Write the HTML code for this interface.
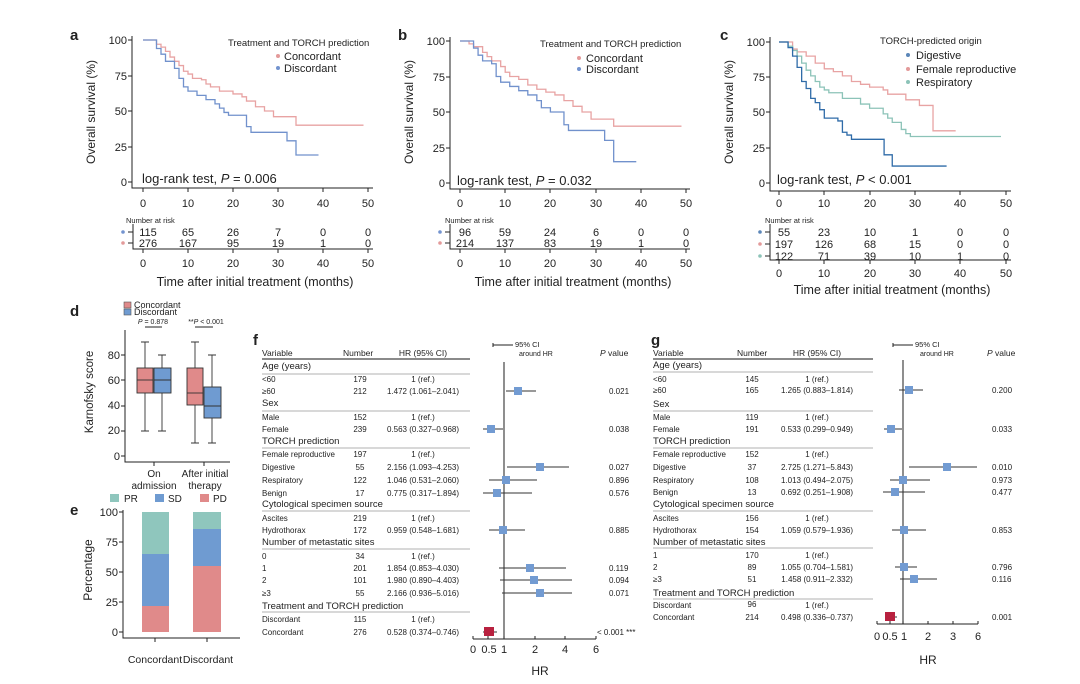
<!DOCTYPE html>
<html><head><meta charset="utf-8"><style>
html,body{margin:0;padding:0;background:#fff}
svg{display:block;font-family:"Liberation Sans",sans-serif;fill:#222}
.t{font-size:11px}
.s{font-size:8px}
.h{font-size:9.5px}
.ax{stroke:#222;stroke-width:1;fill:none}
.km{fill:none;stroke-width:1.3;vector-effect:non-scaling-stroke}
</style></head><body>
<svg width="1080" height="684" viewBox="0 0 1080 684" xmlns="http://www.w3.org/2000/svg">
<rect width="1080" height="684" fill="#fff"/>

<!-- ===== Panel a ===== -->
<text x="70" y="40" font-size="15" font-weight="bold">a</text>
<g class="t" text-anchor="end">
<text x="127" y="44">100</text><text x="127" y="80">75</text><text x="127" y="115">50</text><text x="127" y="151">25</text><text x="127" y="186">0</text>
</g>
<path class="ax" d="M132,36 V188 H373 M128,40 H132 M128,76 H132 M128,111 H132 M128,147 H132 M128,182 H132 M143,188 v4 M188,188 v4 M233,188 v4 M278,188 v4 M323,188 v4 M368,188 v4"/>
<g class="t" text-anchor="middle">
<text x="143" y="207">0</text><text x="188" y="207">10</text><text x="233" y="207">20</text><text x="278" y="207">30</text><text x="323" y="207">40</text><text x="368" y="207">50</text>
</g>
<text transform="translate(95,112) rotate(-90)" text-anchor="middle" font-size="12">Overall survival (%)</text>
<text x="142" y="183" font-size="13">log-rank test, <tspan font-style="italic">P</tspan> = 0.006</text>
<text x="228" y="46" font-size="9.5">Treatment and TORCH prediction</text>
<circle cx="278" cy="56" r="2" fill="#e39a9a"/><text x="284" y="60" class="t">Concordant</text>
<circle cx="278" cy="68" r="2" fill="#7393cf"/><text x="284" y="72" class="t">Discordant</text>
<g transform="translate(143,182) scale(4.5,-1.42)">
<path class="km" stroke="#e8a3a3" d="M0,100 H3 V97 H4 V95 H5 V92 H6 V88 H7 V85 H8 V82 H9 V78 H10 V76 H11 V73 H13 V72 H14 V69 H15 V67 H17 V64 H20 V62 H22 V60 H23 V57 H25 V53 H27 V50 H29 V46 H34 V40 H49"/>
<path class="km" stroke="#7191cc" d="M0,100 H3 V94 H4 V90 H5 V85 H7 V80 H8 V73 H9 V67 H10 V64 H12 V61 H14 V58 H16 V55 H17 V52 H18 V49 H19 V47 H23 V39 H24 V35 H31 V35 H32 V29 H34 V19 H39"/>
</g>
<text x="126" y="223" font-size="7.5">Number at risk</text>
<circle cx="123" cy="232" r="1.8" fill="#7393cf"/><circle cx="123" cy="243" r="1.8" fill="#e39a9a"/>
<path class="ax" d="M128,232 H133 M128,243 H133 M133,224 V249 H373 M143,249 v4 M188,249 v4 M233,249 v4 M278,249 v4 M323,249 v4 M368,249 v4"/>
<g class="t" text-anchor="middle">
<text x="148" y="236">115</text><text x="188" y="236">65</text><text x="233" y="236">26</text><text x="278" y="236">7</text><text x="323" y="236">0</text><text x="368" y="236">0</text>
<text x="148" y="247">276</text><text x="188" y="247">167</text><text x="233" y="247">95</text><text x="278" y="247">19</text><text x="323" y="247">1</text><text x="368" y="247">0</text>
<text x="143" y="267">0</text><text x="188" y="267">10</text><text x="233" y="267">20</text><text x="278" y="267">30</text><text x="323" y="267">40</text><text x="368" y="267">50</text>
<text x="255" y="286" font-size="12.5">Time after initial treatment (months)</text>
</g>

<!-- ===== Panel b ===== -->
<text x="398" y="40" font-size="15" font-weight="bold">b</text>
<g class="t" text-anchor="end">
<text x="445" y="45">100</text><text x="445" y="81">75</text><text x="445" y="116">50</text><text x="445" y="152">25</text><text x="445" y="187">0</text>
</g>
<path class="ax" d="M450,37 V189 H690 M446,41 H450 M446,77 H450 M446,112 H450 M446,148 H450 M446,183 H450 M460,189 v4 M505,189 v4 M550,189 v4 M596,189 v4 M641,189 v4 M686,189 v4"/>
<g class="t" text-anchor="middle">
<text x="460" y="207">0</text><text x="505" y="207">10</text><text x="550" y="207">20</text><text x="596" y="207">30</text><text x="641" y="207">40</text><text x="686" y="207">50</text>
</g>
<text transform="translate(413,112) rotate(-90)" text-anchor="middle" font-size="12">Overall survival (%)</text>
<text x="457" y="185" font-size="13">log-rank test, <tspan font-style="italic">P</tspan> = 0.032</text>
<text x="540" y="47" font-size="9.5">Treatment and TORCH prediction</text>
<circle cx="579" cy="58" r="2" fill="#e39a9a"/><text x="586" y="62" class="t">Concordant</text>
<circle cx="579" cy="69" r="2" fill="#7393cf"/><text x="586" y="73" class="t">Discordant</text>
<g transform="translate(460,183) scale(4.52,-1.42)">
<path class="km" stroke="#e8a3a3" d="M0,100 H2 V98 H3 V96 H5 V92 H6 V89 H7 V86 H9 V82 H10 V78 H11 V75 H13 V73 H15 V69 H17 V66 H19 V64 H21 V62 H23 V58 H25 V54 H27 V50 H29 V45 H34 V40 H49"/>
<path class="km" stroke="#7191cc" d="M0,100 H3 V95 H4 V90 H5 V86 H7 V84 H8 V75 H9 V71 H11 V68 H13 V65 H15 V62 H17 V58 H18 V53 H20 V50 H23 V41 H24 V37 H31 V37 H32 V30 H34 V15 H39"/>
</g>
<text x="445" y="223" font-size="7.5">Number at risk</text>
<circle cx="440" cy="232" r="1.8" fill="#7393cf"/><circle cx="440" cy="243" r="1.8" fill="#e39a9a"/>
<path class="ax" d="M445,232 H450 M445,243 H450 M450,224 V249 H690 M460,249 v4 M505,249 v4 M550,249 v4 M596,249 v4 M641,249 v4 M686,249 v4"/>
<g class="t" text-anchor="middle">
<text x="465" y="236">96</text><text x="505" y="236">59</text><text x="550" y="236">24</text><text x="596" y="236">6</text><text x="641" y="236">0</text><text x="686" y="236">0</text>
<text x="465" y="247">214</text><text x="505" y="247">137</text><text x="550" y="247">83</text><text x="596" y="247">19</text><text x="641" y="247">1</text><text x="686" y="247">0</text>
<text x="460" y="267">0</text><text x="505" y="267">10</text><text x="550" y="267">20</text><text x="596" y="267">30</text><text x="641" y="267">40</text><text x="686" y="267">50</text>
<text x="573" y="286" font-size="12.5">Time after initial treatment (months)</text>
</g>

<!-- ===== Panel c ===== -->
<text x="720" y="40" font-size="15" font-weight="bold">c</text>
<g class="t" text-anchor="end">
<text x="765" y="46">100</text><text x="765" y="81">75</text><text x="765" y="116">50</text><text x="765" y="152">25</text><text x="765" y="187">0</text>
</g>
<path class="ax" d="M770,37 V191 H1011 M766,42 H770 M766,77 H770 M766,112 H770 M766,148 H770 M766,183 H770 M779,191 v4 M824,191 v4 M870,191 v4 M915,191 v4 M960,191 v4 M1006,191 v4"/>
<g class="t" text-anchor="middle">
<text x="779" y="207">0</text><text x="824" y="207">10</text><text x="870" y="207">20</text><text x="915" y="207">30</text><text x="960" y="207">40</text><text x="1006" y="207">50</text>
</g>
<text transform="translate(733,112) rotate(-90)" text-anchor="middle" font-size="12">Overall survival (%)</text>
<text x="777" y="184" font-size="13">log-rank test, <tspan font-style="italic">P</tspan> &lt; 0.001</text>
<text x="880" y="44" font-size="9.5">TORCH-predicted origin</text>
<circle cx="908" cy="55" r="2" fill="#5b86b8"/><text x="916" y="59" class="t">Digestive</text>
<circle cx="908" cy="69" r="2" fill="#e39a9a"/><text x="916" y="73" class="t">Female reproductive</text>
<circle cx="908" cy="82" r="2" fill="#8cc3b8"/><text x="916" y="86" class="t">Respiratory</text>
<g transform="translate(779,183) scale(4.53,-1.41)">
<path class="km" stroke="#e8a3a3" d="M0,100 H2 V100 H3 V95 H4 V93 H6 V90 H8 V85 H10 V81 H12 V79 H14 V76 H16 V72 H18 V70 H20 V68 H23 V66 H24 V63 H28 V59 H31 V55 H34 V37 H39"/>
<path class="km" stroke="#8cc3b8" d="M0,100 H2 V97 H3 V94 H4 V90 H5 V85 H6 V80 H7 V76 H8 V72 H9 V68 H10 V66 H11 V64 H14 V60 H18 V56 H20 V53 H23 V49 H24 V46 H25 V43 H27 V38 H28 V35 H29 V33 H49"/>
<path class="km" stroke="#2f6ba8" d="M0,100 H2 V96 H3 V90 H4 V82 H5 V72 H6 V67 H7 V60 H8 V57 H9 V52 H10 V46 H13 V44 H14 V36 H15 V34 H16 V31 H23 V31 H23.2 V20 H25 V12 H37"/>
</g>
<text x="765" y="223" font-size="7.5">Number at risk</text>
<circle cx="760" cy="232" r="1.8" fill="#5b86b8"/><circle cx="760" cy="244" r="1.8" fill="#e39a9a"/><circle cx="760" cy="256" r="1.8" fill="#8cc3b8"/>
<path class="ax" d="M765,232 H770 M765,244 H770 M765,256 H770 M770,224 V260 H1011 M779,260 v4 M824,260 v4 M870,260 v4 M915,260 v4 M960,260 v4 M1006,260 v4"/>
<g class="t" text-anchor="middle">
<text x="784" y="236">55</text><text x="824" y="236">23</text><text x="870" y="236">10</text><text x="915" y="236">1</text><text x="960" y="236">0</text><text x="1006" y="236">0</text>
<text x="784" y="248">197</text><text x="824" y="248">126</text><text x="870" y="248">68</text><text x="915" y="248">15</text><text x="960" y="248">0</text><text x="1006" y="248">0</text>
<text x="784" y="260">122</text><text x="824" y="260">71</text><text x="870" y="260">39</text><text x="915" y="260">10</text><text x="960" y="260">1</text><text x="1006" y="260">0</text>
<text x="779" y="277">0</text><text x="824" y="277">10</text><text x="870" y="277">20</text><text x="915" y="277">30</text><text x="960" y="277">40</text><text x="1006" y="277">50</text>
<text x="892" y="294" font-size="12.5">Time after initial treatment (months)</text>
</g>

<!-- ===== Panel d ===== -->
<text x="70" y="316" font-size="15" font-weight="bold">d</text>
<rect x="124" y="302" width="7" height="6" fill="#e08a8a" stroke="#555" stroke-width="0.6"/><text x="134" y="308" font-size="9">Concordant</text>
<rect x="124" y="309" width="7" height="6" fill="#6f9bd1" stroke="#555" stroke-width="0.6"/><text x="134" y="315" font-size="9">Discordant</text>
<text x="153" y="324" font-size="7" text-anchor="middle"><tspan font-style="italic">P</tspan> = 0.878</text>
<path class="ax" d="M145,327 H162"/>
<text x="206" y="324" font-size="7" text-anchor="middle">**<tspan font-style="italic">P</tspan> &lt; 0.001</text>
<path class="ax" d="M195,327 H213"/>
<g class="t" text-anchor="end" font-size="10">
<text x="120" y="359">80</text><text x="120" y="384">60</text><text x="120" y="409">40</text><text x="120" y="434">20</text><text x="120" y="460">0</text>
</g>
<path class="ax" d="M125,330 V462 H230 M121,355 H125 M121,380 H125 M121,406 H125 M121,431 H125 M121,456 H125 M154,462 v4 M204,462 v4"/>
<text transform="translate(93,392) rotate(-90)" text-anchor="middle" font-size="11.5">Karnofsky score</text>
<g stroke="#333" stroke-width="0.9">
<path d="M145,342 V368 M145,393 V431 M141,342 H149 M141,431 H149" fill="none"/>
<rect x="137" y="368" width="16" height="25" fill="#e08a8a"/><path d="M137,380 H153"/>
<path d="M162,355 V368 M162,393 V431 M158,355 H166 M158,431 H166" fill="none"/>
<rect x="154" y="368" width="17" height="25" fill="#6f9bd1"/><path d="M154,380 H171"/>
<path d="M195,342 V368 M195,405 V443 M191,342 H199 M191,443 H199" fill="none"/>
<rect x="187" y="368" width="16" height="37" fill="#e08a8a"/><path d="M187,393 H203"/>
<path d="M212,355 V387 M212,418 V443 M208,355 H216 M208,443 H216" fill="none"/>
<rect x="204" y="387" width="17" height="31" fill="#6f9bd1"/><path d="M204,406 H221"/>
</g>
<text x="154" y="477" font-size="10" text-anchor="middle">On</text>
<text x="154" y="489" font-size="10" text-anchor="middle">admission</text>
<text x="205" y="477" font-size="10" text-anchor="middle">After initial</text>
<text x="205" y="489" font-size="10" text-anchor="middle">therapy</text>

<!-- ===== Panel e ===== -->
<text x="70" y="515" font-size="15" font-weight="bold">e</text>
<rect x="110" y="494" width="9" height="8" fill="#8fc6bd"/><text x="124" y="502" font-size="10">PR</text>
<rect x="155" y="494" width="9" height="8" fill="#6f9bd1"/><text x="168" y="502" font-size="10">SD</text>
<rect x="200" y="494" width="9" height="8" fill="#e08a8a"/><text x="213" y="502" font-size="10">PD</text>
<g class="t" text-anchor="end" font-size="10.5">
<text x="118" y="516">100</text><text x="118" y="546">75</text><text x="118" y="576">50</text><text x="118" y="606">25</text><text x="118" y="636">0</text>
</g>
<path class="ax" d="M123,510 V638 H240 M119,512 H123 M119,542 H123 M119,572 H123 M119,602 H123 M119,632 H123 M155,638 v4 M207,638 v4"/>
<text transform="translate(92,570) rotate(-90)" text-anchor="middle" font-size="12">Percentage</text>
<rect x="142" y="512" width="27" height="42" fill="#8fc6bd"/>
<rect x="142" y="554" width="27" height="52" fill="#6f9bd1"/>
<rect x="142" y="606" width="27" height="26" fill="#e08a8a"/>
<rect x="193" y="512" width="28" height="17" fill="#8fc6bd"/>
<rect x="193" y="529" width="28" height="37" fill="#6f9bd1"/>
<rect x="193" y="566" width="28" height="66" fill="#e08a8a"/>
<text x="155" y="663" font-size="10.5" text-anchor="middle">Concordant</text>
<text x="208" y="663" font-size="10.5" text-anchor="middle">Discordant</text>

<!-- ===== Panel f ===== -->
<text x="253" y="345" font-size="15" font-weight="bold">f</text>
<g class="s">
<text x="262" y="356" font-size="8.5">Variable</text>
<text x="343" y="356" font-size="8.5">Number</text>
<text x="423" y="356" font-size="8.5" text-anchor="middle">HR (95% CI)</text>
<text x="600" y="356" font-size="8.5"><tspan font-style="italic">P</tspan> value</text>
</g>
<path d="M262,359 H470" stroke="#444" stroke-width="1.2"/>
<g stroke="#999" stroke-width="0.7">
<path d="M262,374 H470 M262,411 H470 M262,448 H470 M262,511 H470 M262,549 H470 M262,612 H470"/>
</g>
<g class="h">
<text x="262" y="369">Age (years)</text><text x="262" y="406">Sex</text><text x="262" y="444">TORCH prediction</text>
<text x="262" y="507">Cytological specimen source</text><text x="262" y="545">Number of metastatic sites</text><text x="262" y="609">Treatment and TORCH prediction</text>
</g>
<g class="s">
<text x="262" y="382">&lt;60</text><text x="262" y="394">≥60</text>
<text x="262" y="420">Male</text><text x="262" y="432">Female</text>
<text x="262" y="457">Female reproductive</text><text x="262" y="470">Digestive</text><text x="262" y="483">Respiratory</text><text x="262" y="496">Benign</text>
<text x="262" y="521">Ascites</text><text x="262" y="533">Hydrothorax</text>
<text x="262" y="559">0</text><text x="262" y="571">1</text><text x="262" y="583">2</text><text x="262" y="596">≥3</text>
<text x="262" y="622">Discordant</text><text x="262" y="635">Concordant</text>
</g>
<g class="s" text-anchor="middle">
<text x="360" y="382">179</text><text x="360" y="394">212</text><text x="360" y="420">152</text><text x="360" y="432">239</text>
<text x="360" y="457">197</text><text x="360" y="470">55</text><text x="360" y="483">122</text><text x="360" y="496">17</text>
<text x="360" y="521">219</text><text x="360" y="533">172</text>
<text x="360" y="559">34</text><text x="360" y="571">201</text><text x="360" y="583">101</text><text x="360" y="596">55</text>
<text x="360" y="622">115</text><text x="360" y="635">276</text>
<text x="423" y="382">1 (ref.)</text><text x="423" y="394">1.472 (1.061–2.041)</text>
<text x="423" y="420">1 (ref.)</text><text x="423" y="432">0.563 (0.327–0.968)</text>
<text x="423" y="457">1 (ref.)</text><text x="423" y="470">2.156 (1.093–4.253)</text><text x="423" y="483">1.046 (0.531–2.060)</text><text x="423" y="496">0.775 (0.317–1.894)</text>
<text x="423" y="521">1 (ref.)</text><text x="423" y="533">0.959 (0.548–1.681)</text>
<text x="423" y="559">1 (ref.)</text><text x="423" y="571">1.854 (0.853–4.030)</text><text x="423" y="583">1.980 (0.890–4.403)</text><text x="423" y="596">2.166 (0.936–5.016)</text>
<text x="423" y="622">1 (ref.)</text><text x="423" y="635">0.528 (0.374–0.746)</text>
</g>
<g class="s">
<text x="609" y="394">0.021</text><text x="609" y="432">0.038</text><text x="609" y="470">0.027</text><text x="609" y="483">0.896</text><text x="609" y="496">0.576</text>
<text x="609" y="533">0.885</text><text x="609" y="571">0.119</text><text x="609" y="583">0.094</text><text x="609" y="596">0.071</text>
<text x="597" y="635">&lt; 0.001 ***</text>
</g>
<path class="ax" d="M493,345 H513 M493,343 V347"/>
<text x="515" y="347" font-size="7.5">95% CI</text><text x="519" y="356" font-size="7">around HR</text>
<path d="M504,362 V638" stroke="#333" stroke-width="1.1"/>
<g stroke="#333" stroke-width="0.9">
<path d="M506,391 H536 M483,429 H503 M507,467 H569 M489,480 H537 M483,493 H532 M489,530 H525 M499,568 H566 M500,580 H572 M502,593 H572 M483,632 H497"/>
</g>
<g fill="#729bd2">
<rect x="514" y="387" width="8" height="8"/><rect x="487" y="425" width="8" height="8"/><rect x="536" y="463" width="8" height="8"/><rect x="502" y="476" width="8" height="8"/>
<rect x="493" y="489" width="8" height="8"/><rect x="499" y="526" width="8" height="8"/><rect x="526" y="564" width="8" height="8"/><rect x="530" y="576" width="8" height="8"/><rect x="536" y="589" width="8" height="8"/>
</g>
<rect x="484" y="627" width="10" height="9" fill="#b8213f"/>
<path class="ax" d="M473,639 H596 M473,639 v-3 M488,639 v-3 M504,639 v-3 M535,639 v-3 M565,639 v-3 M596,639 v-3"/>
<g class="t" text-anchor="middle" font-size="10.5">
<text x="473" y="653">0</text><text x="489" y="653">0.5</text><text x="504" y="653">1</text><text x="535" y="653">2</text><text x="565" y="653">4</text><text x="596" y="653">6</text>
<text x="540" y="675" font-size="12">HR</text>
</g>

<!-- ===== Panel g ===== -->
<text x="651" y="345" font-size="15" font-weight="bold">g</text>
<g class="s">
<text x="653" y="356" font-size="8.5">Variable</text>
<text x="737" y="356" font-size="8.5">Number</text>
<text x="817" y="356" font-size="8.5" text-anchor="middle">HR (95% CI)</text>
<text x="987" y="356" font-size="8.5"><tspan font-style="italic">P</tspan> value</text>
</g>
<path d="M653,359 H873" stroke="#444" stroke-width="1.2"/>
<g stroke="#999" stroke-width="0.7">
<path d="M653,372 H873 M653,411 H873 M653,448 H873 M653,511 H873 M653,548 H873 M653,599 H873"/>
</g>
<g class="h">
<text x="653" y="368">Age (years)</text><text x="653" y="407">Sex</text><text x="653" y="444">TORCH prediction</text>
<text x="653" y="507">Cytological specimen source</text><text x="653" y="545">Number of metastatic sites</text><text x="653" y="596">Treatment and TORCH prediction</text>
</g>
<g class="s">
<text x="653" y="382">&lt;60</text><text x="653" y="393">≥60</text>
<text x="653" y="420">Male</text><text x="653" y="432">Female</text>
<text x="653" y="457">Female reproductive</text><text x="653" y="470">Digestive</text><text x="653" y="483">Respiratory</text><text x="653" y="495">Benign</text>
<text x="653" y="521">Ascites</text><text x="653" y="533">Hydrothorax</text>
<text x="653" y="558">1</text><text x="653" y="570">2</text><text x="653" y="582">≥3</text>
<text x="653" y="608">Discordant</text><text x="653" y="620">Concordant</text>
</g>
<g class="s" text-anchor="middle">
<text x="752" y="382">145</text><text x="752" y="393">165</text><text x="752" y="420">119</text><text x="752" y="432">191</text>
<text x="752" y="457">152</text><text x="752" y="470">37</text><text x="752" y="483">108</text><text x="752" y="495">13</text>
<text x="752" y="521">156</text><text x="752" y="533">154</text>
<text x="752" y="558">170</text><text x="752" y="570">89</text><text x="752" y="582">51</text>
<text x="752" y="607">96</text><text x="752" y="620">214</text>
<text x="817" y="382">1 (ref.)</text><text x="817" y="393">1.265 (0.883–1.814)</text>
<text x="817" y="420">1 (ref.)</text><text x="817" y="432">0.533 (0.299–0.949)</text>
<text x="817" y="457">1 (ref.)</text><text x="817" y="470">2.725 (1.271–5.843)</text><text x="817" y="483">1.013 (0.494–2.075)</text><text x="817" y="495">0.692 (0.251–1.908)</text>
<text x="817" y="521">1 (ref.)</text><text x="817" y="533">1.059 (0.579–1.936)</text>
<text x="817" y="558">1 (ref.)</text><text x="817" y="570">1.055 (0.704–1.581)</text><text x="817" y="582">1.458 (0.911–2.332)</text>
<text x="817" y="608">1 (ref.)</text><text x="817" y="620">0.498 (0.336–0.737)</text>
</g>
<g class="s">
<text x="992" y="393">0.200</text><text x="992" y="432">0.033</text><text x="992" y="470">0.010</text><text x="992" y="483">0.973</text><text x="992" y="495">0.477</text>
<text x="992" y="533">0.853</text><text x="992" y="570">0.796</text><text x="992" y="582">0.116</text><text x="992" y="620">0.001</text>
</g>
<path class="ax" d="M893,345 H913 M893,343 V347"/>
<text x="915" y="347" font-size="7.5">95% CI</text><text x="920" y="356" font-size="7">around HR</text>
<path d="M903,360 V624" stroke="#333" stroke-width="1.1"/>
<g stroke="#333" stroke-width="0.9">
<path d="M899,390 H923 M884,429 H902 M909,467 H977 M890,480 H930 M883,492 H925 M892,530 H926 M895,567 H917 M900,579 H937 M885,617 H897"/>
</g>
<g fill="#729bd2">
<rect x="905" y="386" width="8" height="8"/><rect x="887" y="425" width="8" height="8"/><rect x="943" y="463" width="8" height="8"/><rect x="899" y="476" width="8" height="8"/>
<rect x="891" y="488" width="8" height="8"/><rect x="900" y="526" width="8" height="8"/><rect x="900" y="563" width="8" height="8"/><rect x="910" y="575" width="8" height="8"/>
</g>
<rect x="885" y="612" width="10" height="9" fill="#b8213f"/>
<path class="ax" d="M877,624 H978 M877,624 v-3 M890,624 v-3 M903,624 v-3 M928,624 v-3 M953,624 v-3 M978,624 v-3"/>
<g class="t" text-anchor="middle" font-size="10.5">
<text x="877" y="640">0</text><text x="890" y="640">0.5</text><text x="904" y="640">1</text><text x="928" y="640">2</text><text x="953" y="640">3</text><text x="978" y="640">6</text>
<text x="928" y="664" font-size="12">HR</text>
</g>
</svg>
</body></html>
